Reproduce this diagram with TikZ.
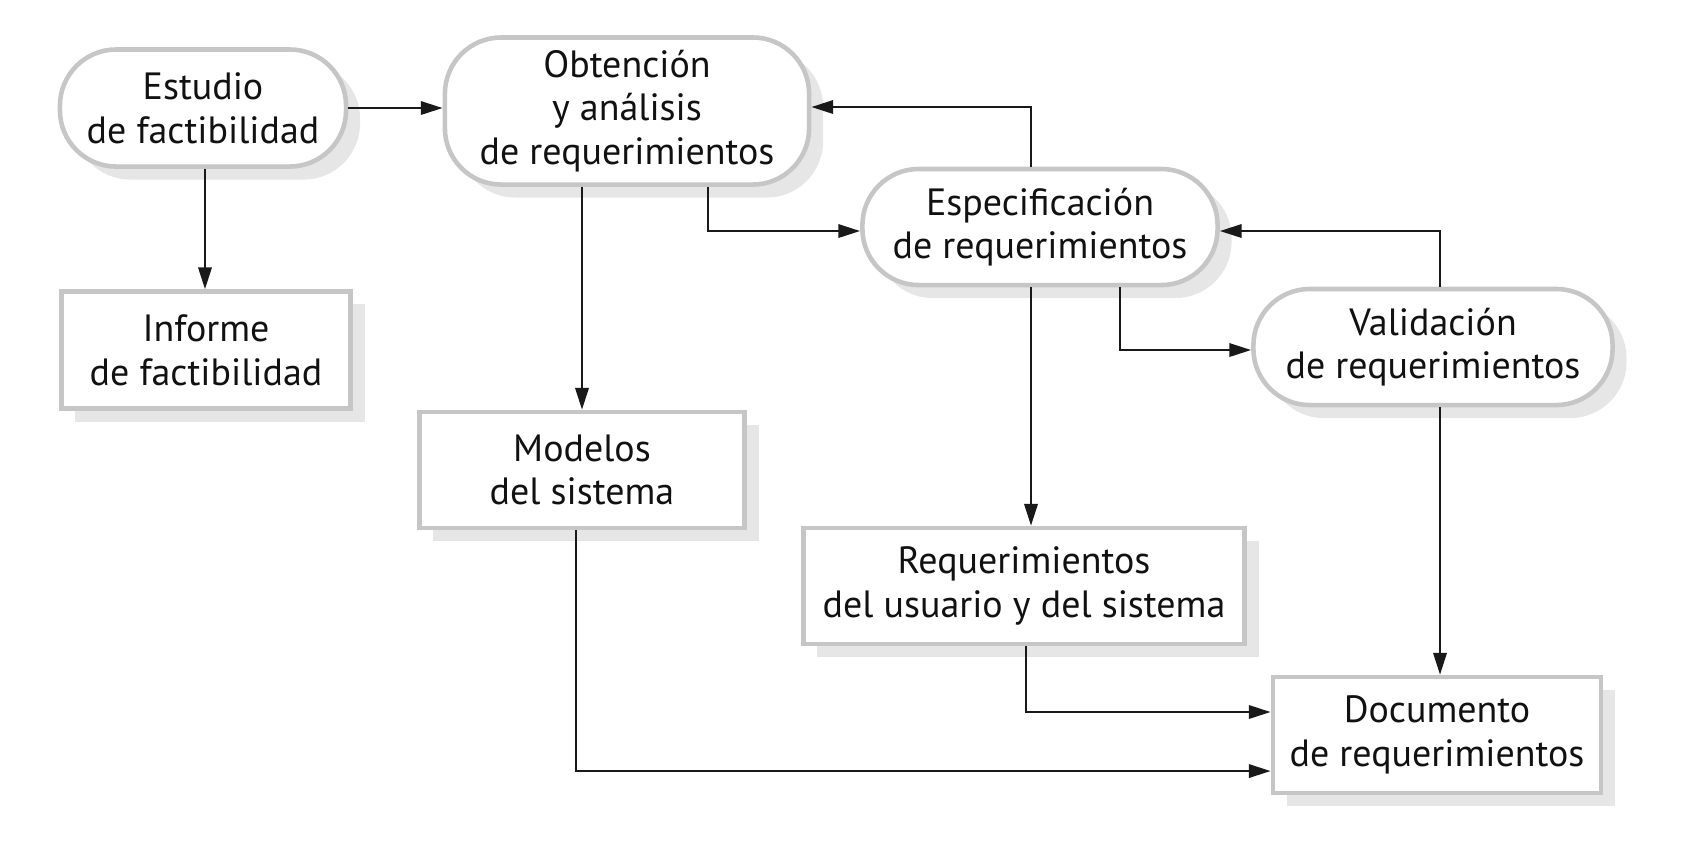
\documentclass[tikz,border=0pt]{standalone}
\usepackage{fontspec}
\setmainfont{PT Sans}
\usetikzlibrary{arrows.meta,shadows}

\begin{document}
\begin{tikzpicture}[x=0.01cm, y=-0.01cm]
    \definecolor{borderColour}{HTML}{C6C6C6}
    \definecolor{shadowColour}{HTML}{E6E6E6}
    \definecolor{textColour}{HTML}{111111}

    \tikzset{
        box/.style={draw=borderColour, line width=1.3pt, fill=white, align=center,
            text=textColour, font=\fontsize{10.8}{12.4}\selectfont, inner sep=0pt,
            drop shadow={shadow xshift=0.14cm, shadow yshift=-0.13cm,
                fill=shadowColour, opacity=1}},
        roundbox/.style={box, rounded corners=16pt},
        flow/.style={-{Triangle[length=6.2pt,width=3.8pt]}, line width=0.65pt, draw=black!90},
    }

    \useasboundingbox (0,0) rectangle (1688,856);

    % Process steps (rounded)
    \node[roundbox, minimum width=2.86cm, minimum height=1.17cm] (estudio) at (203,108)
        {Estudio\\de factibilidad};
    \node[roundbox, minimum width=3.64cm, minimum height=1.47cm] (obtencion) at (627,111)
        {Obtención\\y análisis\\de requerimientos};
    \node[roundbox, minimum width=3.55cm, minimum height=1.16cm] (especif) at (1040,227)
        {Especificación\\de requerimientos};
    \node[roundbox, minimum width=3.59cm, minimum height=1.16cm] (validacion) at (1433,347)
        {Validación\\de requerimientos};

    % Documents (boxes)
    \node[box, minimum width=2.89cm, minimum height=1.17cm] (informe) at (206,350)
        {Informe\\de factibilidad};
    \node[box, minimum width=3.25cm, minimum height=1.16cm] (modelos) at (582,470)
        {Modelos\\del sistema};
    \node[box, minimum width=4.41cm, minimum height=1.16cm] (reqs) at (1024,586)
        {Requerimientos\\del usuario y del sistema};
    \node[box, minimum width=3.28cm, minimum height=1.16cm] (documento) at (1437,735)
        {Documento\\de requerimientos};

    % Connectors
    \draw[flow] (estudio.east) -- (estudio.east -| obtencion.west);
    \draw[flow] ([xshift=0.02cm]estudio.south) -- ([xshift=0.02cm]estudio.south |- informe.north);
    \draw[flow] (modelos.north |- obtencion.south) -- (modelos.north);
    \draw[flow] ([xshift=0.81cm]obtencion.south) |- ([yshift=-0.04cm]especif.west);
    \draw[flow] ([xshift=-0.09cm]especif.north) |- ([yshift=0.04cm]obtencion.east);
    \draw[flow] ([xshift=-0.09cm]especif.south) -- ([xshift=-0.09cm]especif.south |- reqs.north);
    \draw[flow] ([xshift=0.8cm]especif.south) |- ([yshift=-0.03cm]validacion.west);
    \draw[flow] ([xshift=0.07cm]validacion.north) |- ([yshift=-0.04cm]especif.east);
    \draw[flow] ([xshift=0.07cm]validacion.south) -- ([xshift=0.07cm]validacion.south |- documento.north);
    \draw[flow] ([xshift=0.02cm]reqs.south) |- ([yshift=0.23cm]documento.west);
    \draw[flow] ([xshift=-0.06cm]modelos.south) |- ([yshift=-0.36cm]documento.west);

\end{tikzpicture}
\end{document}
